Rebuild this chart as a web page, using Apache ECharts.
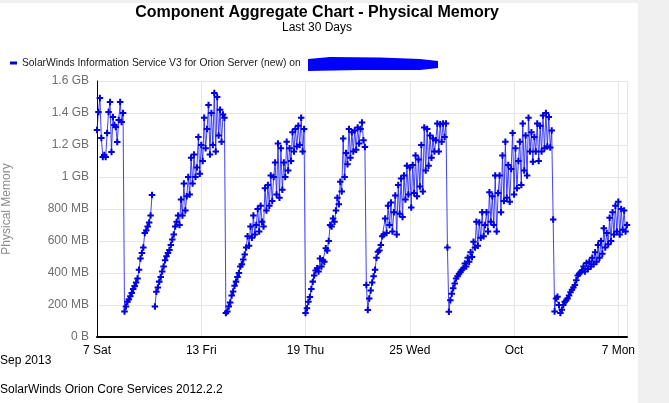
<!DOCTYPE html>
<html>
<head>
<meta charset="utf-8">
<script src="https://cdn.jsdelivr.net/npm/echarts@6/dist/echarts.min.js"></script>
<style>
html,body{margin:0;padding:0;background:#fff;}
#chart{width:669px;height:403px;}
</style>
</head>
<body>
<div id="chart"></div>
<script>
// Sample spacing: one reading every 2 hours, starting Sat 7 Sep 2013 00:00
const stepHours = 2;
const axisMaxHours = 732; // Mon 7 Oct 2013 12:00

// Physical memory in MB, one array per run between service restarts
const memA = [1294, 1406, 1494, 1244, 1125, 1137, 1125, 1275, 1406, 1469, 1156, 1375, 1325, 1312, 1219, 1356, 1469, 1344, 1400];
const memB = [160, 190, 220, 235, 255, 275, 300, 318, 340, 365, 420, 490, 525, 560, 650, 665, 690, 715, 760, 887];
const memGap = [null];
const memC = [190, 283, 310, 346, 375, 410, 440, 480, 505, 525,
  544, 575, 610, 640, 690, 720, 760, 700, 860, 760,
  960, 790, 880, 1000, 890, 1120, 960, 1140, 1000, 1060,
  1250, 1020, 1200, 1100, 1370, 1180, 1300, 1450, 1140, 1400,
  1200, 1525, 1160, 1500, 1260, 1420, 1220, 1390, 1370];
const memD = [150, 160, 190, 215, 260, 285, 320, 346, 375, 400,
  440, 455, 485, 515, 560, 630, 570, 690, 620, 760,
  640, 700, 800, 660, 820, 720, 690, 930, 790, 950,
  820, 1010, 850, 1000, 1090, 890, 1210, 870, 1180, 920,
  1090, 1000, 1220, 1040, 1180, 1100, 1280, 1160, 1300, 1190,
  1320, 1200, 1370, 1160, 1300];
const memE = [150, 180, 220, 250, 300, 346, 385, 415, 430, 410,
  490, 440, 480, 470, 555, 540, 600, 700, 690, 740,
  720, 790, 870, 830, 970, 910, 1240, 1000, 1150, 1080,
  1300, 1120, 1280, 1160, 1290, 1170, 1310, 1210, 1300, 1340,
  1230, 1187, 325, 169];
const memF = [240, 290, 340, 380, 420, 495, 533, 540, 575, 630,
  640, 740, 650, 820, 700, 840, 660, 780, 885, 640,
  950, 770, 990, 750, 1010, 860, 1070, 890, 1060, 810,
  1075, 900, 1135, 880, 1110, 940, 1200, 910, 1310, 1040,
  1300, 1070, 1260, 1120, 1240, 1160, 1230, 1335, 1160, 1330,
  1220, 1335, 1250, 1335, 560];
const memG = [158, 230, 270, 305, 335, 366, 380, 395, 405, 420,
  430, 460, 440, 495, 470, 530, 500, 595, 560, 720,
  570, 715, 620, 780, 630, 700, 780, 660, 905, 720,
  880, 700, 1010, 660, 900, 1010, 780, 1135, 850, 1220,
  870, 1075, 845, 1050, 1275, 890, 1180, 930, 1100, 1220,
  950, 1335, 1040, 1260, 1010, 1370, 1160, 1280, 1095, 1250,
  1160, 1335, 1100, 1320, 1160, 1385, 1180, 1400, 1190, 1375,
  1185, 1290, 735];
const memH = [160, 240, 252, 200, 150, 170, 200, 220, 228, 240,
  260, 280, 295, 310, 325, 355, 385, 395, 405, 415,
  440, 410, 462, 425, 470, 440, 495, 455, 530, 470,
  575, 495, 600, 520, 680, 560, 650, 580, 745, 600,
  780, 640, 820, 660, 845, 640, 800, 670, 790, 660,
  700];

const xTickLabels = ['7 Sat', '13 Fri', '19 Thu', '25 Wed', 'Oct', '7 Mon'];
const xTickHours = [0, 144, 288, 432, 576, 720];
const yTickValues = [0, 200, 400, 600, 800, 1000, 1200, 1400, 1600];

const seriesName = 'SolarWinds Information Service V3 for Orion Server (new) on';

const memoryMB = [].concat(memA, memB, memGap, memC, memD, memE, memF, memG, memH);
const seriesData = memoryMB.map((v, i) => [i * stepHours, v === null ? '-' : v]);

const chart = echarts.init(document.getElementById('chart'), null, {renderer: 'canvas'});

const plus = 'path://M2.4,0H4.6V2.4H7V4.6H4.6V7H2.4V4.6H0V2.4H2.4Z';
const FONT = '"Liberation Sans", Arial, sans-serif';

chart.setOption({
  animation: false,
  backgroundColor: '#ffffff',
  textStyle: {fontFamily: FONT},
  grid: {left: 97, right: 42, top: 81, bottom: 66, containLabel: false, outerBoundsMode: 'none'},
  legend: {
    data: [{name: seriesName, icon: 'rect'}],
    left: 10, top: 58, padding: 0,
    itemWidth: 7, itemHeight: 3, itemGap: 4,
    textStyle: {fontSize: 10.3, color: '#1a1a1a', fontFamily: FONT},
    selectedMode: false
  },
  xAxis: {
    type: 'value',
    min: 0, max: axisMaxHours, interval: 144,
    axisLine: {show: true, lineStyle: {color: '#000', width: 2}},
    axisTick: {show: false},
    axisLabel: {
      color: '#000', fontSize: 12, margin: 8, fontFamily: FONT,
      showMaxLabel: false,
      formatter: v => { const k = xTickHours.indexOf(v); return k >= 0 ? xTickLabels[k] : ''; }
    },
    splitLine: {show: true, lineStyle: {color: '#e6e6e6', width: 1}}
  },
  yAxis: {
    type: 'value',
    min: yTickValues[0], max: yTickValues[yTickValues.length - 1], interval: 200,
    name: 'Physical Memory',
    nameLocation: 'middle',
    nameGap: 84,
    nameTextStyle: {color: '#8c8c8c', fontSize: 12, fontFamily: FONT},
    axisLine: {show: true, lineStyle: {color: '#000', width: 1}},
    axisTick: {show: false},
    axisLabel: {
      color: '#6e6e6e', fontSize: 12, margin: 8, fontFamily: FONT,
      formatter: v => v === 0 ? '0 B' : (v < 1000 ? v + ' MB' : (v / 1000) + ' GB')
    },
    splitLine: {show: true, lineStyle: {color: '#e6e6e6', width: 1}}
  },
  series: [{
    name: seriesName,
    type: 'line',
    data: seriesData,
    showAllSymbol: true,
    symbol: plus,
    symbolSize: 6.5,
    connectNulls: false,
    itemStyle: {color: '#0000e0'},
    lineStyle: {color: '#2020ff', width: 1, opacity: 0.85},
    emphasis: {disabled: true}
  }],
  graphic: [
    {type: 'rect', shape: {x: 638, y: 0, width: 31, height: 403}, style: {fill: '#f0f0f0'}, silent: true, z: -10},
    {type: 'rect', shape: {x: 0, y: 0, width: 669, height: 3}, style: {fill: '#f0f0f0'}, silent: true, z: -10},
    {type: 'text', style: {text: 'Component Aggregate Chart - Physical Memory', x: 317, y: 12.5, textAlign: 'center', textVerticalAlign: 'middle', font: 'bold 16px ' + FONT, fill: '#000'}},
    {type: 'text', style: {text: 'Last 30 Days', x: 317, y: 27.5, textAlign: 'center', textVerticalAlign: 'middle', font: '12px ' + FONT, fill: '#000'}},
    {type: 'polygon', shape: {points: [[308, 59], [330, 57], [380, 57.5], [420, 59], [438, 61], [438, 68], [420, 70], [360, 70], [308, 71]]}, style: {fill: '#0000ff'}},
    {type: 'text', style: {text: 'Sep 2013', x: 0, y: 361, textAlign: 'left', textVerticalAlign: 'middle', font: '12px ' + FONT, fill: '#000'}},
    {type: 'text', style: {text: 'SolarWinds Orion Core Services 2012.2.2', x: 0, y: 390, textAlign: 'left', textVerticalAlign: 'middle', font: '12px ' + FONT, fill: '#000'}}
  ]
});
</script>
</body>
</html>
